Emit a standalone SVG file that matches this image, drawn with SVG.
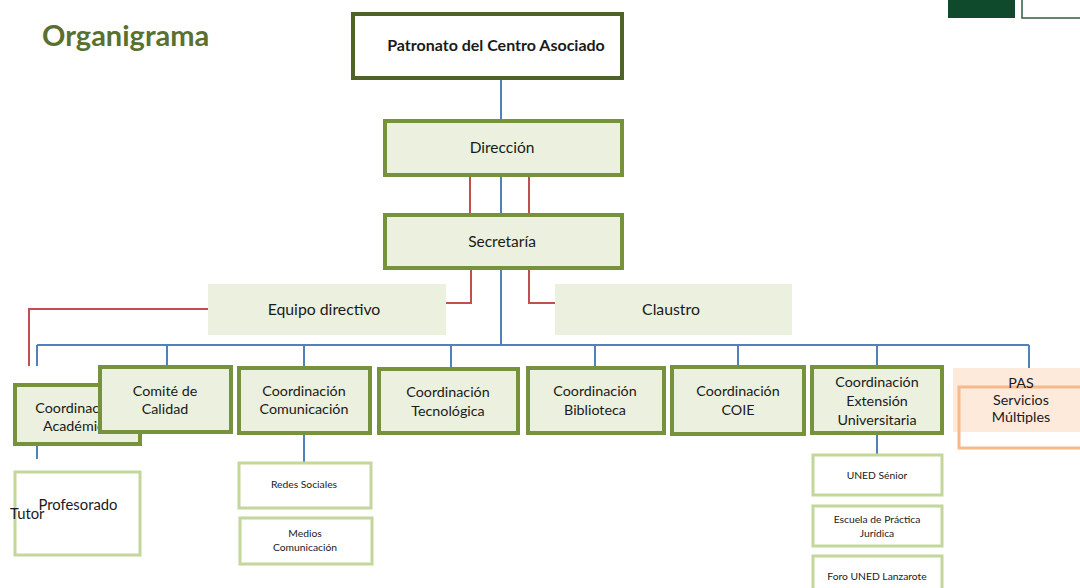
<svg xmlns="http://www.w3.org/2000/svg" width="1080" height="588" viewBox="0 0 1080 588">
<style>
text{font-family:Lato,"Open Sans","Liberation Sans",sans-serif;fill:#1a1a1a;text-anchor:middle}
.main{fill:#ebf1de;stroke:#76923c;stroke-width:4}
.soft{fill:#ebf1de;stroke:none}
.sub{fill:#ffffff;stroke:#c3d69b;stroke-width:3}
.b{stroke:#4f81bd;stroke-width:2;fill:none}
.r{stroke:#c0504d;stroke-width:2;fill:none}
.t13{font-size:14.3px}
.t10{font-size:10.3px}
</style>
<rect width="1080" height="588" fill="#ffffff"/>
<text x="42" y="46" style="font-size:29px;font-weight:bold;fill:#5a7030;text-anchor:start">Organigrama</text>
<rect x="948" y="-2" width="67" height="20" fill="#0f4a2c"/>
<rect x="1022" y="-2" width="62" height="20" fill="#ffffff" stroke="#2e5e40" stroke-width="1.5"/>

<g id="connectors">
<line class="b" x1="501" y1="78" x2="501" y2="120"/>
<line class="b" x1="501" y1="175" x2="501" y2="215"/>
<line class="r" x1="470" y1="175" x2="470" y2="215"/>
<line class="r" x1="529" y1="175" x2="529" y2="215"/>
<polyline class="r" points="471,268 471,303 446,303"/>
<polyline class="r" points="529,268 529,303 555,303"/>
<polyline class="r" points="208,309 29,309 29,366"/>
<line class="b" x1="501" y1="268" x2="501" y2="345"/>
<line class="b" x1="37" y1="345" x2="1029" y2="345"/>
<line class="b" x1="37" y1="345" x2="37" y2="366"/>
<line class="b" x1="167" y1="345" x2="167" y2="366"/>
<line class="b" x1="304" y1="345" x2="304" y2="368"/>
<line class="b" x1="451" y1="345" x2="451" y2="369"/>
<line class="b" x1="595" y1="345" x2="595" y2="368"/>
<line class="b" x1="738" y1="345" x2="738" y2="366"/>
<line class="b" x1="877" y1="345" x2="877" y2="366"/>
<line class="b" x1="1029" y1="345" x2="1029" y2="368"/>
<line class="b" x1="37" y1="431" x2="37" y2="459"/>
<line class="b" x1="304" y1="433" x2="304" y2="462"/>
<line class="b" x1="877" y1="433" x2="877" y2="454"/>
</g>

<g id="patronato">
<rect x="353" y="14" width="269" height="64" fill="#ffffff" stroke="#4f6228" stroke-width="4"/>
<text x="496" y="51" style="font-size:16px;font-weight:bold">Patronato del Centro Asociado</text>
</g>
<g id="direccion">
<rect class="main" x="385" y="121" width="237" height="54"/>
<text x="502" y="153" style="font-size:15.5px">Dirección</text>
</g>
<g id="secretaria">
<rect class="main" x="385" y="215" width="237" height="53"/>
<text x="502" y="247" style="font-size:15.5px">Secretaría</text>
</g>
<g id="equipo">
<rect class="soft" x="208" y="284" width="238" height="51"/>
<text x="324" y="315" style="font-size:15.8px">Equipo directivo</text>
</g>
<g id="claustro">
<rect class="soft" x="555" y="284" width="237" height="51"/>
<text x="671" y="315" style="font-size:15.8px">Claustro</text>
</g>
<g id="academica">
<rect class="main" x="15" y="385" width="125" height="59"/>
<text class="t13" x="77" y="413">Coordinación</text>
<text class="t13" x="77" y="431">Académica</text>
</g>
<g id="calidad">
<rect class="main" x="100" y="367" width="131" height="65"/>
<text class="t13" x="165" y="396">Comité de</text>
<text class="t13" x="165" y="414">Calidad</text>
</g>
<g id="comunicacion">
<rect class="main" x="239" y="368" width="131" height="65"/>
<text class="t13" x="304" y="396">Coordinación</text>
<text class="t13" x="304" y="414">Comunicación</text>
</g>
<g id="tecnologica">
<rect class="main" x="379" y="369" width="139" height="64"/>
<text class="t13" x="448" y="397">Coordinación</text>
<text class="t13" x="448" y="416">Tecnológica</text>
</g>
<g id="biblioteca">
<rect class="main" x="528" y="368" width="136" height="65"/>
<text class="t13" x="595" y="396">Coordinación</text>
<text class="t13" x="595" y="415">Biblioteca</text>
</g>
<g id="coie">
<rect class="main" x="672" y="367" width="132" height="67"/>
<text class="t13" x="738" y="396">Coordinación</text>
<text class="t13" x="738" y="415">COIE</text>
</g>
<g id="extension">
<rect class="main" x="812" y="367" width="130" height="66"/>
<text class="t13" x="877" y="387">Coordinación</text>
<text class="t13" x="877" y="406">Extensión</text>
<text class="t13" x="877" y="425">Universitaria</text>
</g>
<g id="pas">
<rect x="953" y="368" width="130" height="64" fill="#fdeadb"/>
<rect x="959" y="387" width="126" height="61" fill="none" stroke="#f7b88a" stroke-width="3"/>
<text class="t13" x="1021" y="388">PAS</text>
<text class="t13" x="1021" y="405">Servicios</text>
<text class="t13" x="1021" y="422">Múltiples</text>
</g>
<g id="profesorado">
<rect class="sub" x="15" y="472" width="125" height="83"/>
<text x="78" y="510" style="font-size:14.8px">Profesorado</text>
<text x="10" y="519" style="font-size:14.8px;text-anchor:start">Tutor</text>
</g>
<g id="redes">
<rect class="sub" x="239" y="463" width="132" height="45"/>
<text class="t10" x="304" y="488">Redes Sociales</text>
</g>
<g id="medios">
<rect class="sub" x="240" y="518" width="132" height="46"/>
<text class="t10" x="305" y="537">Medios</text>
<text class="t10" x="305" y="551">Comunicación</text>
</g>
<g id="senior">
<rect class="sub" x="813" y="455" width="129" height="40"/>
<text class="t10" x="877" y="479">UNED Sénior</text>
</g>
<g id="escuela">
<rect class="sub" x="813" y="506" width="129" height="40"/>
<text class="t10" x="877" y="523">Escuela de Práctica</text>
<text class="t10" x="877" y="537">Jurídica</text>
</g>
<g id="foro">
<rect class="sub" x="813" y="556" width="129" height="40"/>
<text class="t10" x="877" y="580">Foro UNED Lanzarote</text>
</g>
</svg>
